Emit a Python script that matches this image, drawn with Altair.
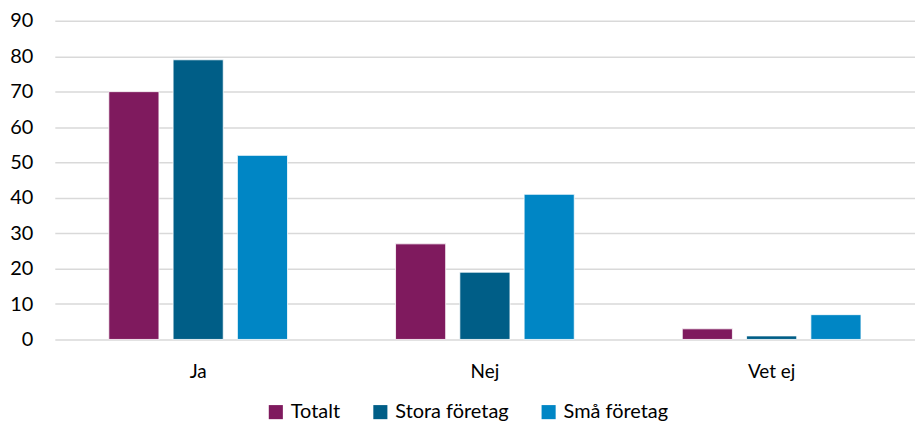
import altair as alt
import pandas as pd

categories = ["Ja", "Nej", "Vet ej"]
series = ["Totalt", "Stora företag", "Små företag"]
totalt = [70, 27, 3]
stora = [79, 19, 1]
sma = [52, 41, 7]
colors = ["#7F1A5E", "#005E87", "#0086C5"]

rows = []
for i, c in enumerate(categories):
    for s, vals in zip(series, [totalt, stora, sma]):
        rows.append({"Svar": c, "Serie": s, "Värde": vals[i]})
df = pd.DataFrame(rows)

font = "Lato"

chart = alt.Chart(df).mark_bar(stroke="white", strokeWidth=0.8).encode(
    x=alt.X("Svar:N", sort=categories, title=None,
            scale=alt.Scale(paddingInner=0, paddingOuter=0),
            axis=alt.Axis(labelAngle=0, ticks=False, domain=False, labelPadding=23,
                          labelFontSize=19, labelColor="#000000", labelFont=font)),
    xOffset=alt.XOffset("Serie:N", sort=series,
                        scale=alt.Scale(paddingInner=0.22, paddingOuter=0.84)),
    y=alt.Y("Värde:Q", title=None,
            scale=alt.Scale(domain=[0, 90]),
            axis=alt.Axis(values=list(range(0, 91, 10)), ticks=False, domain=False,
                          labelPadding=22, labelFontSize=20, labelColor="#000000",
                          labelFont=font, gridColor="#d9d9d9", gridWidth=1.5)),
    color=alt.Color("Serie:N", sort=series,
                    scale=alt.Scale(domain=series, range=colors),
                    legend=alt.Legend(orient="none", direction="horizontal", title=None,
                                      legendX=212, legendY=383,
                                      symbolType="square", symbolSize=200,
                                      symbolStrokeWidth=0,
                                      labelFontSize=20, labelFont=font, labelColor="#000000",
                                      columnPadding=30, labelOffset=5)),
).properties(
    width=864, height=320,
    autosize=alt.AutoSizeParams(type="none"),
    padding={"left": 47, "top": 12, "right": 0, "bottom": 81},
).configure_view(stroke=None)

chart.save("out.html", embed_options={"renderer": "svg", "actions": False})
